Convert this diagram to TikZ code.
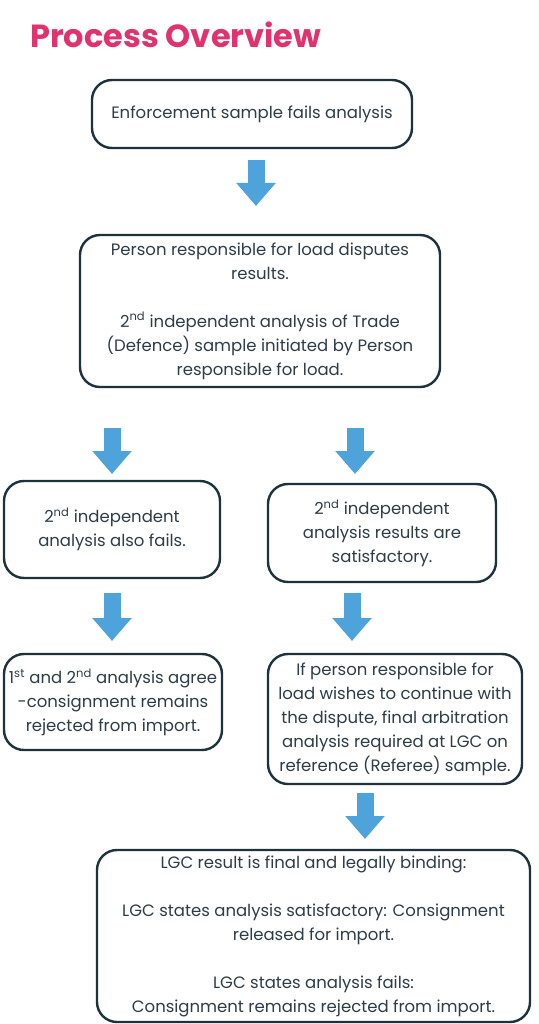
\documentclass[tikz,border=0pt]{standalone}
\usepackage{fontspec}
\setmainfont{Poppins}
\usetikzlibrary{arrows.meta}
\definecolor{titlepink}{RGB}{224,51,110}
\definecolor{boxline}{RGB}{30,50,62}
\definecolor{boxtext}{RGB}{45,60,70}
\definecolor{arrowblue}{RGB}{79,163,219}
\tikzset{
  box/.style={draw=boxline, line width=2.4pt, rounded corners=20pt, align=center,
    text=boxtext, inner sep=0pt, font=\fontsize{16.5}{24}\selectfont},
  barrow/.style={draw=arrowblue, line width=17pt,
    -{Triangle[width=38pt,length=23pt,fill=arrowblue]}}
}
\begin{document}
\begin{tikzpicture}[x=1pt,y=-1pt]
\useasboundingbox (0,0) rectangle (538,1024);
\node[anchor=base west, inner sep=0pt, text=titlepink, font=\fontsize{32}{36}\selectfont\bfseries] (title) at (30,48) {Process Overview};

\node[box, minimum width=320pt, minimum height=68pt] (b1) at (252,114) {Enforcement sample fails analysis};
\node[box, minimum width=360pt, minimum height=152pt] (b2) at (260,311)
  {Person responsible for load disputes\\results.\\[24pt]
   2\textsuperscript{nd} independent analysis of Trade\\(Defence) sample initiated by Person\\responsible for load.};
\node[box, minimum width=216pt, minimum height=97pt] (b3) at (112,529.5)
  {2\textsuperscript{nd} independent\\analysis also fails.};
\node[box, minimum width=228pt, minimum height=98pt] (b4) at (382,533)
  {2\textsuperscript{nd} independent\\analysis results are\\satisfactory.};
\node[box, minimum width=218pt, minimum height=96pt] (b5) at (113,702)
  {1\textsuperscript{st} and 2\textsuperscript{nd} analysis agree\\-consignment remains\\rejected from import.};
\node[box, minimum width=254pt, minimum height=130pt] (b6) at (395,719)
  {If person responsible for\\load wishes to continue with\\the dispute, final arbitration\\analysis required at LGC on\\reference (Referee) sample.};
\node[box, minimum width=433pt, minimum height=172pt] (b7) at (313.5,936)
  {LGC result is final and legally binding:\\[24pt]
   LGC states analysis satisfactory: Consignment\\released for import.\\[24pt]
   LGC states analysis fails:\\Consignment remains rejected from import.};

\coordinate (a1s) at (256,160); \coordinate (a1e) at (256,206);
\coordinate (a2ls) at (112,428); \coordinate (a2le) at (112,474);
\coordinate (a2rs) at (355,428); \coordinate (a2re) at (355,474);
\coordinate (a3ls) at (112,593); \coordinate (a3le) at (112,641);
\coordinate (a3rs) at (352,593); \coordinate (a3re) at (352,641);
\coordinate (a4s) at (365,793); \coordinate (a4e) at (365,839);
\draw[barrow] (a1s) -- (a1e);
\draw[barrow] (a2ls) -- (a2le);
\draw[barrow] (a2rs) -- (a2re);
\draw[barrow] (a3ls) -- (a3le);
\draw[barrow] (a3rs) -- (a3re);
\draw[barrow] (a4s) -- (a4e);
\end{tikzpicture}
\end{document}
